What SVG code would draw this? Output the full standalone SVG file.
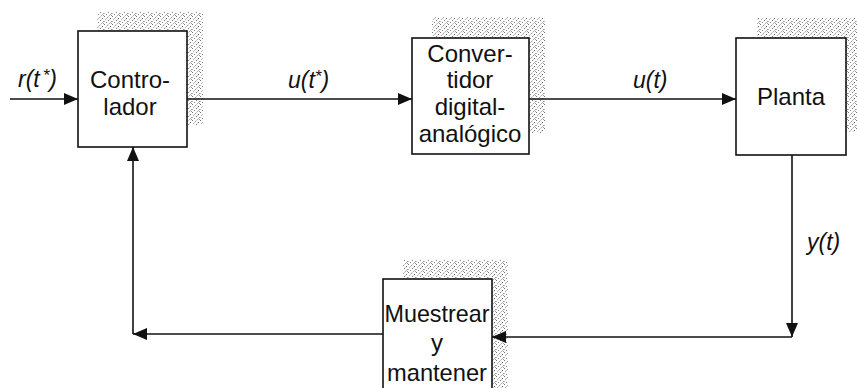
<svg xmlns="http://www.w3.org/2000/svg" width="857" height="388" viewBox="0 0 857 388">
<style>
.box{fill:#fff;stroke:#111;stroke-width:1.6}
.shadow{fill:url(#stip)}
.node{font-family:"Liberation Sans",Arial,sans-serif;font-size:24px;fill:#111;text-anchor:middle}
.lbl{font-family:"Liberation Sans",Arial,sans-serif;font-size:23px;font-style:italic;fill:#111}
.wire{fill:none;stroke:#111;stroke-width:1.6}
</style>
<defs>
<pattern id="stip" width="8" height="8" patternUnits="userSpaceOnUse">
<rect width="8" height="8" fill="#fff"/>
<rect x="0" y="0" width="1" height="1" fill="#777"/>
<rect x="3" y="1" width="1" height="1" fill="#999"/>
<rect x="6" y="2" width="1" height="1" fill="#666"/>
<rect x="1" y="3" width="1" height="1" fill="#aaa"/>
<rect x="4" y="4" width="1" height="1" fill="#777"/>
<rect x="7" y="5" width="1" height="1" fill="#999"/>
<rect x="2" y="6" width="1" height="1" fill="#888"/>
<rect x="5" y="7" width="1" height="1" fill="#aaa"/>
<rect x="6" y="6" width="1" height="1" fill="#bbb"/>
<rect x="2" y="2" width="1" height="1" fill="#bbb"/>
<rect x="5" y="3" width="1" height="1" fill="#ccc"/>
<rect x="0" y="5" width="1" height="1" fill="#bbb"/>
<rect x="4" y="0" width="1" height="1" fill="#ccc"/>
<rect x="7" y="7" width="1" height="1" fill="#999"/>
</pattern>
<marker id="arr" markerWidth="14" markerHeight="12" refX="14" refY="6" orient="auto" markerUnits="userSpaceOnUse">
<path d="M0,0 L14,6 L0,12 Z" fill="#111"/>
</marker>
</defs>

<g id="controlador">
<rect class="shadow" x="97" y="12" width="106" height="113"/>
<rect class="box" x="78" y="31" width="109" height="116"/>
<text class="node" x="130" y="88">Contro-</text>
<text class="node" x="130" y="115">lador</text>
</g>

<g id="convertidor">
<rect class="shadow" x="432" y="17" width="113" height="116"/>
<rect class="box" x="412" y="38" width="117" height="116"/>
<text class="node" x="470" y="62">Conver-</text>
<text class="node" x="470" y="88">tidor</text>
<text class="node" x="470" y="115">digital-</text>
<text class="node" x="470" y="142">analógico</text>
</g>

<g id="planta">
<rect class="shadow" x="757" y="18" width="105" height="114"/>
<rect class="box" x="736" y="38" width="110" height="117"/>
<text class="node" x="791" y="105">Planta</text>
</g>

<g id="muestrear">
<rect class="shadow" x="403" y="260" width="105" height="140"/>
<rect class="box" x="383" y="279" width="109" height="130"/>
<text class="node" x="437" y="322" textLength="105" lengthAdjust="spacingAndGlyphs">Muestrear</text>
<text class="node" x="437" y="351">y</text>
<text class="node" x="437" y="381" textLength="100" lengthAdjust="spacingAndGlyphs">mantener</text>
</g>

<g id="connectors">
<line class="wire" x1="10" y1="99" x2="78" y2="99" marker-end="url(#arr)"/>
<line class="wire" x1="187" y1="99" x2="412" y2="99" marker-end="url(#arr)"/>
<line class="wire" x1="529" y1="99" x2="736" y2="99" marker-end="url(#arr)"/>
<line class="wire" x1="792" y1="155" x2="792" y2="337" marker-end="url(#arr)"/>
<line class="wire" x1="792" y1="337" x2="492" y2="337" marker-end="url(#arr)"/>
<line class="wire" x1="383" y1="334" x2="133" y2="334" marker-end="url(#arr)"/>
<line class="wire" x1="133" y1="334" x2="133" y2="147" marker-end="url(#arr)"/>
</g>

<g id="labels">
<text class="lbl" x="18" y="87">r(t<tspan dx="3" dy="-6" font-size="17">*</tspan><tspan dy="6">)</tspan></text>
<text class="lbl" x="288" y="88">u(t<tspan dy="-6" font-size="17">*</tspan><tspan dy="6">)</tspan></text>
<text class="lbl" x="633" y="88">u(t)</text>
<text class="lbl" x="807" y="250">y(t)</text>
</g>
</svg>
